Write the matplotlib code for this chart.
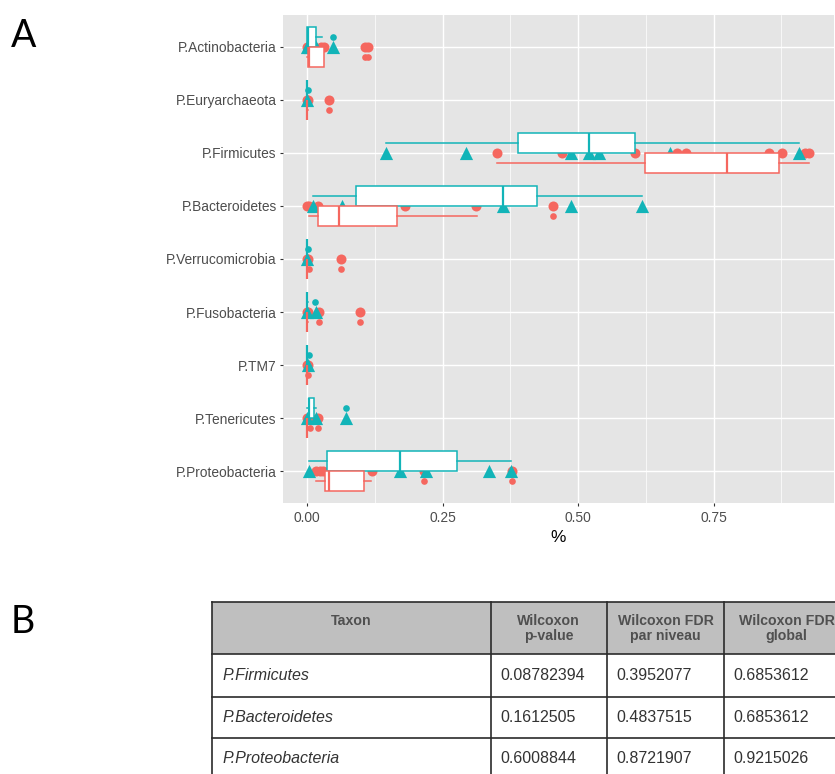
import matplotlib
matplotlib.use("Agg")
import matplotlib.pyplot as plt
from matplotlib.patches import Rectangle

# ---- data ----
taxa = ["P.Actinobacteria", "P.Euryarchaeota", "P.Firmicutes", "P.Bacteroidetes",
        "P.Verrucomicrobia", "P.Fusobacteria", "P.TM7", "P.Tenericutes", "P.Proteobacteria"]

# group drawn in red (circles)
red_pts = [
    [0.0, 0.003, 0.012, 0.025, 0.031, 0.107, 0.113],
    [0.0, 0.001, 0.040],
    [0.351, 0.470, 0.605, 0.683, 0.700, 0.853, 0.876, 0.918, 0.926],
    [0.0, 0.004, 0.021, 0.180, 0.312, 0.453],
    [0.0, 0.002, 0.062],
    [0.0, 0.002, 0.023, 0.0985],
    [0.0, 0.001],
    [0.0, 0.005, 0.021],
    [0.016, 0.024, 0.030, 0.119, 0.215, 0.378],
]
red_q1 = [0.0015, 0.0, 0.624, 0.0194, 0.0, 0.0, 0.0, 0.0, 0.0325]
red_med = [0.004, 0.0, 0.775, 0.0586, 0.0, 0.0, 0.0, 0.0, 0.0404]
red_q3 = [0.031, 0.0, 0.871, 0.1665, 0.0, 0.0, 0.0, 0.0, 0.1057]
red_lo = [0.0, 0.0, 0.351, 0.003, 0.0, 0.0, 0.0, 0.0, 0.0162]
red_hi = [0.031, 0.001, 0.926, 0.3136, 0.0, 0.002, 0.0, 0.002, 0.1175]
red_out = [[0.107, 0.113], [0.040], [], [0.453], [0.003, 0.062],
           [0.0227, 0.0985], [0.001], [0.005, 0.021], [0.215, 0.378]]

# group drawn in teal (triangles)
teal_pts = [
    [0.0, 0.005, 0.017, 0.048],
    [0.0],
    [0.146, 0.294, 0.487, 0.520, 0.539, 0.670, 0.907],
    [0.011, 0.065, 0.361, 0.487, 0.618],
    [0.0],
    [0.0, 0.016],
    [0.002],
    [0.0, 0.016, 0.072],
    [0.004, 0.172, 0.219, 0.335, 0.377],
]
teal_q1 = [0.0, 0.0, 0.390, 0.090, 0.0, 0.0, 0.0, 0.003, 0.0377]
teal_med = [0.001, 0.0, 0.520, 0.361, 0.0, 0.0, 0.0, 0.004, 0.172]
teal_q3 = [0.017, 0.0, 0.605, 0.425, 0.0, 0.0, 0.0, 0.013, 0.2764]
teal_lo = [0.0, 0.0, 0.146, 0.011, 0.0, 0.0, 0.0, 0.0, 0.0044]
teal_hi = [0.0275, 0.0, 0.907, 0.618, 0.0, 0.002, 0.0, 0.016, 0.377]
teal_out = [[0.048], [0.0015], [], [], [0.001], [0.015], [0.003], [0.0717], []]

xticks = [0.0, 0.25, 0.5, 0.75]
xticklabels = ["0.00", "0.25", "0.50", "0.75"]

# table (panel B)
tab_header = ["Taxon", "Wilcoxon\np-value", "Wilcoxon FDR\npar niveau", "Wilcoxon FDR\nglobal"]
tab_taxon = ["P.Firmicutes", "P.Bacteroidetes", "P.Proteobacteria"]
tab_pval = ["0.08782394", "0.1612505", "0.6008844"]
tab_fdr_niveau = ["0.3952077", "0.4837515", "0.8721907"]
tab_fdr_global = ["0.6853612", "0.6853612", "0.9215026"]

RED = "#F5675F"
TEAL = "#12B4B8"
W, H = 835, 774

plt.rcParams['font.family'] = ['Liberation Sans', 'DejaVu Sans']
fig = plt.figure(figsize=(W / 100, H / 100), dpi=100)

# ---- panel A ----
ax = fig.add_axes([283 / W, 1 - 503 / H, (834 - 283) / W, (503 - 15) / H])
ax.set_facecolor("#E5E5E5")
for s in ax.spines.values():
    s.set_visible(False)

n = len(taxa)
for i in range(n):
    ax.scatter(red_pts[i], [i] * len(red_pts[i]), marker='o', s=52, color=RED,
               linewidths=0, zorder=2)
    ax.scatter(teal_pts[i], [i] * len(teal_pts[i]), marker='^', s=90, color=TEAL,
               linewidths=0, zorder=2)


def stats(q1, med, q3, lo, hi, out):
    return [dict(q1=q1[i], med=med[i], q3=q3[i], whislo=lo[i], whishi=hi[i], fliers=out[i])
            for i in range(n)]


off = 0.19
for st, col, sign in [(stats(teal_q1, teal_med, teal_q3, teal_lo, teal_hi, teal_out), TEAL, -1),
                      (stats(red_q1, red_med, red_q3, red_lo, red_hi, red_out), RED, 1)]:
    ax.bxp(st, positions=[i + sign * off for i in range(n)], widths=0.375,
           orientation='horizontal', patch_artist=True, showcaps=False,
           manage_ticks=False, zorder=3,
           boxprops=dict(facecolor='white', edgecolor=col, linewidth=1.1),
           whiskerprops=dict(color=col, linewidth=1.1),
           medianprops=dict(color=col, linewidth=1.6),
           flierprops=dict(marker='o', markerfacecolor=col, markeredgecolor='none',
                           markersize=4.8))

ax.set_xlim(-0.0443, 0.9722)
ax.set_ylim(n - 1 + 0.6, -0.6)
ax.set_yticks(range(n))
ax.set_yticklabels(taxa)
ax.set_xticks(xticks)
ax.set_xticklabels(xticklabels)
ax.set_xticks([0.125, 0.375, 0.625, 0.875], minor=True)
ax.grid(which='major', color='white', linewidth=1.0)
ax.grid(which='minor', axis='x', color='white', linewidth=0.5)
ax.set_axisbelow(True)
ax.tick_params(which='major', length=2.5, width=0.8, color='#333333',
               labelsize=9.9, labelcolor='#4D4D4D', pad=2)
ax.tick_params(axis='x', pad=3.5)
ax.tick_params(which='minor', length=0)
ax.set_xlabel("%", fontsize=12.4, labelpad=3.5)

# ---- overlay: labels and table ----
ov = fig.add_axes([0, 0, 1, 1])
ov.set_xlim(0, W)
ov.set_ylim(H, 0)
ov.axis('off')

ov.text(11, 46.7, "A", fontsize=27, family='Lato', va='baseline', ha='left')
ov.text(11, 633, "B", fontsize=27, family='Lato', va='baseline', ha='left')

col_x = [212.3, 490.7, 606.7, 724.3, 849]
row_y = [601.7, 654, 696.7, 738.3, 780]
ov.add_patch(Rectangle((col_x[0], row_y[0]), col_x[-1] - col_x[0], row_y[1] - row_y[0],
                       facecolor='#BFBFBF', edgecolor='none'))
for y in row_y:
    ov.plot([col_x[0], col_x[-1]], [y, y], color='#2B2B2B', lw=1.2)
for x in col_x:
    ov.plot([x, x], [row_y[0], row_y[-1]], color='#2B2B2B', lw=1.2)

for j, h in enumerate(tab_header):
    cx = (col_x[j] + col_x[j + 1]) / 2
    for k, line in enumerate(h.split("\n")):
        ov.text(cx, 625 + 15 * k, line, fontsize=10.2, fontweight='bold', color='#505050',
                ha='center', va='baseline')

base = [680, 721.7, 763.3]
for r in range(len(tab_taxon)):
    ov.text(col_x[0] + 10.5, base[r], tab_taxon[r], fontsize=11.5, style='italic',
            color='#333333', ha='left', va='baseline')
    for j, vals in enumerate([tab_pval, tab_fdr_niveau, tab_fdr_global]):
        ov.text(col_x[j + 1] + 9.5, base[r], vals[r], fontsize=11.5, color='#333333',
                ha='left', va='baseline')

fig.savefig("out.png", dpi=100)
